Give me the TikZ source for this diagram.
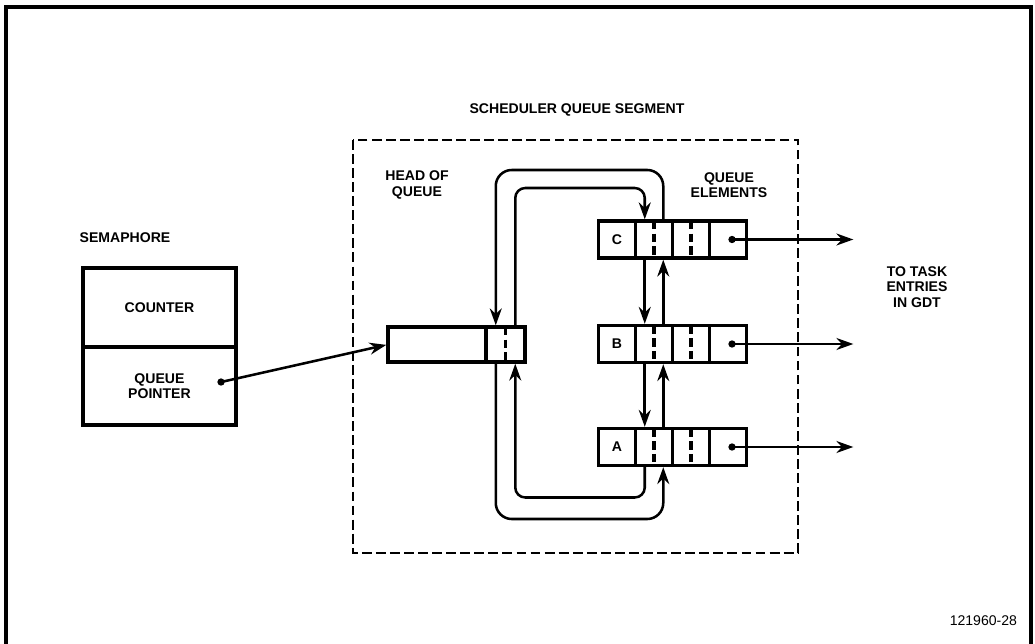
\documentclass[tikz,border=0pt]{standalone}
\usepackage{fontspec}
\setmainfont{Liberation Sans}
\usetikzlibrary{arrows.meta,positioning,calc}

\begin{document}
\begin{tikzpicture}[x=0.025cm,y=-0.025cm,>={Stealth[length=12pt,width=8.5pt]},
 every node/.style={font=\fontsize{10}{11}\selectfont\bfseries,align=center},
 cell/.style={draw,line width=2.6pt,inner sep=0pt,outer sep=0pt,
 minimum width=0.925cm,minimum height=0.925cm},
 link/.style={line width=1.8pt,shorten >=1.2pt},
 half/.style={line width=2.2pt,dash pattern=on 6pt off 3pt}]
 \useasboundingbox (0,0) rectangle (1035,644);
 \draw[line width=2.6pt] (6,644)--(6,7)--(1031,7)--(1031,644);
 \draw[line width=2pt,dash pattern=on 7pt off 3pt] (353,140) rectangle (798,553);
 \node (seglbl) at (577,110) {SCHEDULER QUEUE SEGMENT};
 \node (headlbl) at (417,185) {HEAD OF\\QUEUE};
 \node (elemlbl) at (729,185) {QUEUE\\ELEMENTS};
 \node (semlbl) at (125,238) {SEMAPHORE};
 \node (tasklbl) at (917,287) {TO TASK\\ENTRIES\\IN GDT};
 \node[anchor=east,font=\fontsize{10}{11}\selectfont] (figno) at (1022,621) {121960-28};
 % semaphore
 \node[cell,minimum width=3.825cm,minimum height=1.975cm] (cnt) at (159.5,307.5) {COUNTER};
 \node[cell,minimum width=3.825cm,minimum height=1.95cm,below=0pt of cnt] (qp) {QUEUE\\POINTER};
 \coordinate (qpdot) at ($(qp.east)+(-15,-4)$);
 % head of queue
 \node[cell,minimum width=2.45cm,minimum height=0.875cm] (hq1) at (437,344.5) {};
 \node[cell,minimum width=0.975cm,minimum height=0.875cm,right=0pt of hq1] (hq2) {};
 \draw[half] (hq2.north) -- (hq2.south);
 \fill (qpdot) circle (2.6pt);
 \draw[link,->] (qpdot) -- (hq1.west);
 % queue elements
 \foreach \e/\y in {C/239.5,B/344,A/447} {
 \node[cell] (\e1) at (617,\y) {\e};
 \node[cell,right=0pt of \e1] (\e2) {};
 \node[cell,right=0pt of \e2] (\e3) {};
 \node[cell,right=0pt of \e3] (\e4) {};
 \draw[half] (\e2.north) -- (\e2.south);
 \draw[half] (\e3.north) -- (\e3.south);
 \coordinate (dot\e) at ($(\e4.center)+(4,0)$);
 \coordinate (to\e) at (855,\y);
 \fill (dot\e) circle (2.6pt);
 \draw[link,->] (dot\e) -- (to\e);
 }
 \foreach \u/\d in {C/B,B/A} {
 \draw[link,->] ($(\u2.south)!0.5!(\u2.south west)$) -- ($(\d2.north)!0.5!(\d2.north west)$);
 \draw[link,->] ($(\d2.north)!0.5!(\d2.north east)$) -- ($(\u2.south)!0.5!(\u2.south east)$);
 }
 % loops round the head
 \draw[link,->,rounded corners=0.4cm] ($(C2.north)!0.5!(C2.north east)$) -- ++(0,-51)
 -| ($(hq2.north)!0.5!(hq2.north west)$);
 \draw[link,->,rounded corners=0.25cm] ($(hq2.north)!0.5!(hq2.north east)$) -- ++(0,-139)
 -| ($(C2.north)!0.5!(C2.north west)$);
 \draw[link,->,rounded corners=0.25cm] ($(A2.south)!0.5!(A2.south west)$) -- ++(0,32)
 -| ($(hq2.south)!0.5!(hq2.south east)$);
 \draw[link,->,rounded corners=0.4cm] ($(hq2.south)!0.5!(hq2.south west)$) -- ++(0,157)
 -| ($(A2.south)!0.5!(A2.south east)$);
\end{tikzpicture}
\end{document}
